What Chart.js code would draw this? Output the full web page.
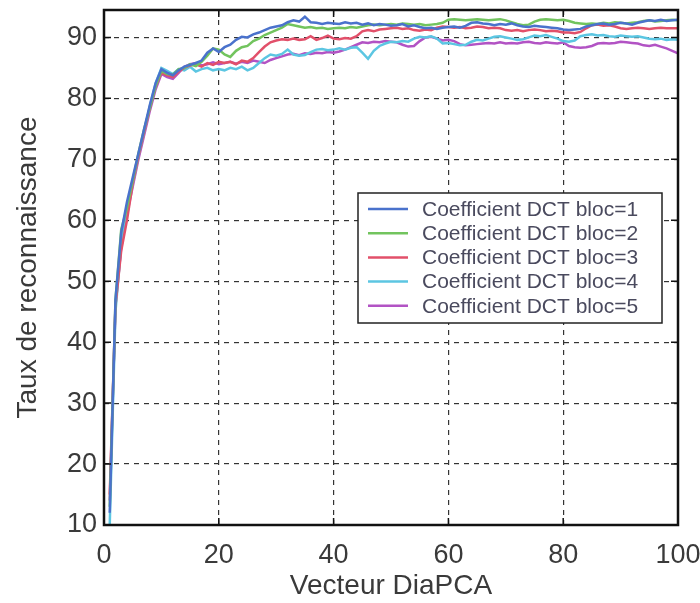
<!DOCTYPE html>
<html>
<head>
<meta charset="utf-8">
<script src="https://cdn.jsdelivr.net/npm/chart.js@4.4.1/dist/chart.umd.min.js"></script>
<style>
  html, body { margin: 0; padding: 0; background: #fff; }
  #wrap { width: 700px; height: 603px; }
</style>
</head>
<body>
<div id="wrap"><canvas id="dctChart"></canvas></div>
<script>
// x axis: vecteur DiaPCA (1..100)
const vecteurs = [
  1, 2, 3, 4, 5, 6, 7, 8, 9, 10, 11, 12, 13, 14, 15, 16, 17, 18, 19, 20,
  21, 22, 23, 24, 25, 26, 27, 28, 29, 30, 31, 32, 33, 34, 35, 36, 37, 38, 39, 40,
  41, 42, 43, 44, 45, 46, 47, 48, 49, 50, 51, 52, 53, 54, 55, 56, 57, 58, 59, 60,
  61, 62, 63, 64, 65, 66, 67, 68, 69, 70, 71, 72, 73, 74, 75, 76, 77, 78, 79, 80,
  81, 82, 83, 84, 85, 86, 87, 88, 89, 90, 91, 92, 93, 94, 95, 96, 97, 98, 99, 100
]

const legendLabels = [
  "Coefficient DCT bloc=1",
  "Coefficient DCT bloc=2",
  "Coefficient DCT bloc=3",
  "Coefficient DCT bloc=4",
  "Coefficient DCT bloc=5"
]

const xTicks = [0, 20, 40, 60, 80, 100]
const yTicks = [10, 20, 30, 40, 50, 60, 70, 80, 90]

const bloc1 = [
  12, 47, 58, 63, 67, 71, 75, 79, 82.5, 84.8,
  84.2, 83.8, 84.6, 85.2, 85.5, 85.8, 86.2, 87.5, 88.2, 87.6,
  88.4, 88.8, 89.6, 90.1, 90.0, 90.5, 90.8, 91.2, 91.6, 91.8,
  92.0, 92.5, 92.8, 92.6, 93.4, 92.5, 92.4, 92.2, 92.4, 92.3,
  92.2, 92.5, 92.3, 92.4, 92.1, 92.3, 92.0, 92.2, 92.1, 91.9,
  92.0, 92.2, 91.8, 92.0, 91.7, 91.5, 91.6, 91.4, 91.6, 91.7,
  91.8, 91.6, 91.9, 92.4, 92.5, 92.3, 92.2, 92.0, 92.2, 92.1,
  92.3, 92.0, 91.8, 91.7, 91.9, 91.8, 91.7, 91.6, 91.5, 91.3,
  91.2, 91.3, 91.4, 91.8, 92.0, 92.2, 92.3, 92.1, 92.2, 92.4,
  92.3, 92.1, 92.4, 92.6, 92.8, 92.7, 92.9, 92.7, 92.8, 92.9
]

const bloc2 = [
  13, 47, 58.5, 62, 66.5, 71, 75, 78.5, 82, 84.5,
  84.0, 83.9, 84.8, 85.0, 85.6, 85.3, 86.0, 87.0, 88.2, 88.0,
  87.2, 86.8, 87.8, 88.4, 88.6, 89.4, 89.8, 90.4, 90.8, 91.2,
  91.6, 92.2, 92.0, 91.8, 91.6, 91.7, 91.5, 91.6, 91.4, 91.5,
  91.6, 91.5, 91.7, 91.6, 91.8, 92.0, 92.1, 92.0, 92.1, 92.2,
  92.1, 92.3, 92.2, 92.1, 92.2, 92.0, 92.1, 92.2, 92.4, 92.9,
  93.0, 92.9, 92.8, 92.9, 93.0, 92.9, 92.8, 92.9, 93.0, 92.8,
  92.5, 92.2, 92.0, 92.1, 92.6, 92.9, 93.0, 92.9, 92.8, 92.9,
  92.7, 92.4, 92.3, 92.2, 92.3, 92.2, 92.4, 92.3, 92.5, 92.4,
  92.3, 92.4, 92.5, 92.7, 92.8, 92.6, 92.7, 92.8, 92.9, 92.8
]

const bloc3 = [
  15, 46, 55, 60, 66, 70.5, 74.5, 78.5, 82, 84.2,
  83.8, 83.5, 84.4, 85.0, 85.4, 85.6, 85.2, 85.8, 85.5, 86.0,
  85.8, 86.0, 85.6, 86.2, 86.0, 86.6, 87.6, 88.5, 89.2, 89.5,
  89.7, 89.6, 89.8, 89.6, 89.7, 90.2, 89.6, 89.9, 90.3, 89.8,
  89.7, 89.9, 89.8, 90.2, 91.0, 91.2, 91.0, 91.3, 91.4, 91.5,
  91.6, 91.4, 91.5, 91.2, 91.1, 91.3, 91.2, 91.6, 91.8, 91.7,
  91.6, 91.7, 91.5, 91.6, 91.8, 91.7, 91.5, 91.6, 91.5, 91.2,
  91.1, 91.2, 91.0, 91.2, 91.3, 91.2, 91.0, 91.1, 91.0, 90.8,
  90.8, 90.7, 90.9, 91.5, 92.0, 92.1, 91.9, 92.0, 91.8, 91.5,
  91.4, 91.5, 91.6, 91.5, 91.4, 91.5, 91.6, 91.5, 91.5, 91.5
]

const bloc4 = [
  10, 45, 56, 61.5, 66, 70.5, 74.5, 78.8, 82.5, 85.0,
  84.5, 84.0, 84.8, 84.6, 85.2, 84.4, 84.8, 85.0, 84.6, 84.8,
  84.6, 85.0, 84.8, 85.2, 84.6, 85.0, 85.8, 86.6, 87.2, 87.0,
  87.3, 88.0, 87.2, 87.0, 87.1, 87.6, 88.0, 88.1, 87.9, 88.0,
  88.2, 88.0, 88.3, 88.4, 87.5, 86.5, 87.8, 88.6, 89.0, 89.3,
  89.2, 89.4, 89.3, 89.8, 90.1, 90.0, 90.2, 89.8, 89.0, 89.1,
  88.9, 88.7, 88.8, 89.3, 89.6, 89.5, 89.8, 90.1, 90.2, 90.0,
  89.8, 89.6, 89.7, 90.0, 90.3, 90.2, 90.4, 90.1, 89.8, 89.4,
  89.3, 89.5, 90.2, 90.4, 90.5, 90.3, 90.4, 90.2, 90.1, 90.3,
  90.2, 90.1, 90.2, 90.0, 89.8, 89.7, 89.8, 89.6, 89.7, 89.6
]

const bloc5 = [
  14, 46, 55.5, 61, 65.5, 70, 74, 78, 81.5, 84.0,
  83.5, 83.2, 84.2, 85.2, 85.6, 85.8, 85.4, 85.6, 85.9, 85.6,
  85.8, 86.0, 85.7, 86.0, 85.8, 86.2, 86.0, 85.8, 86.3, 86.6,
  86.9, 87.2, 87.3, 87.1, 87.4, 87.3, 87.5, 87.4, 87.6, 87.5,
  87.7, 88.0, 88.4, 88.8, 89.2, 89.1, 89.3, 89.2, 89.4, 89.3,
  89.2, 88.8, 88.5, 88.6, 89.4, 90.0, 90.1, 89.8, 89.5, 89.6,
  89.4, 88.9, 88.7, 88.8, 88.9, 89.0, 89.1, 89.0, 89.2, 89.0,
  89.1, 89.0, 89.2, 89.3, 89.1, 89.0, 89.2, 89.1, 89.0, 89.2,
  88.6, 88.4, 88.3, 88.4, 88.6, 89.0, 89.1, 89.0, 89.1, 89.3,
  89.2, 89.1, 89.0, 88.7, 88.6, 88.8, 88.5, 88.2, 87.8, 87.4
]

const seriesColors = ["#4a72cc", "#72c45e", "#e2506a", "#5cc6e2", "#b253c4"]

function createDctChart() {
  const series = [bloc1, bloc2, bloc3, bloc4, bloc5]

  const data = {
    labels: vecteurs,
    datasets: series.map((values, i) => ({
      label: legendLabels[i],
      data: values,
      borderColor: seriesColors[i],
      backgroundColor: seriesColors[i],
      borderWidth: 2.5,
      pointRadius: 0,
      tension: 0,
      fill: false,
    })),
  }

  // box round the plot, inside ticks, and the legend box (matlab style)
  const frameAndLegend = {
    id: "frameAndLegend",
    afterDatasetsDraw(chart) {
      const { ctx, chartArea: area, scales } = chart
      ctx.save()
      ctx.strokeStyle = "#111"
      ctx.lineWidth = 1.5
      ctx.beginPath()
      xTicks.forEach((v) => {
        const px = scales.x.getPixelForValue(v)
        ctx.moveTo(px, area.bottom)
        ctx.lineTo(px, area.bottom - 7)
        ctx.moveTo(px, area.top)
        ctx.lineTo(px, area.top + 7)
      })
      yTicks.forEach((v) => {
        const py = scales.y.getPixelForValue(v)
        ctx.moveTo(area.left, py)
        ctx.lineTo(area.left + 7, py)
        ctx.moveTo(area.right, py)
        ctx.lineTo(area.right - 7, py)
      })
      ctx.stroke()
      ctx.lineWidth = 2.5
      ctx.strokeRect(area.left, area.top, area.right - area.left, area.bottom - area.top)

      // legend
      const box = { x: 358, y: 193, w: 304, h: 130 }
      ctx.fillStyle = "#fff"
      ctx.fillRect(box.x, box.y, box.w, box.h)
      ctx.lineWidth = 1.5
      ctx.strokeStyle = "#222"
      ctx.strokeRect(box.x, box.y, box.w, box.h)
      ctx.font = "21px 'Liberation Sans', Arial, sans-serif"
      ctx.textBaseline = "middle"
      ctx.textAlign = "left"
      chart.data.datasets.forEach((ds, i) => {
        const y = box.y + 16 + i * 24.2
        ctx.strokeStyle = ds.borderColor
        ctx.lineWidth = 2.5
        ctx.beginPath()
        ctx.moveTo(box.x + 10, y)
        ctx.lineTo(box.x + 50, y)
        ctx.stroke()
        ctx.fillStyle = "#4a4a5e"
        ctx.fillText(ds.label, box.x + 64, y + 1)
      })
      ctx.restore()
    },
  }

  const tickFont = { family: "'Liberation Sans', Arial, sans-serif", size: 27 }
  const titleFont = { family: "'Liberation Sans', Arial, sans-serif", size: 28 }

  const config = {
    type: "line",
    data: data,
    options: {
      responsive: true,
      maintainAspectRatio: false,
      animation: false,
      layout: { padding: { top: 10, right: 22, left: 0, bottom: 0 } },
      plugins: {
        legend: { display: false },
        tooltip: { enabled: false },
      },
      scales: {
        x: {
          type: "linear",
          min: 0,
          max: 100,
          afterBuildTicks: (scale) => {
            scale.ticks = xTicks.map((v) => ({ value: v }))
          },
          afterFit: (scale) => {
            scale.height = 78
            scale.paddingLeft = 0
            scale.paddingRight = 0
          },
          ticks: { font: tickFont, color: "#3a3a3a", padding: 14, maxRotation: 0 },
          grid: { color: "#333", lineWidth: 1.2, drawTicks: false },
          border: { display: false, dash: [5, 5] },
          title: {
            display: true,
            text: "Vecteur DiaPCA",
            font: titleFont,
            color: "#3a3a3a",
            padding: { top: 4, bottom: 0 },
          },
        },
        y: {
          min: 10,
          max: 94.5,
          afterBuildTicks: (scale) => {
            scale.ticks = yTicks.map((v) => ({ value: v }))
          },
          afterFit: (scale) => {
            scale.width = 104
            scale.paddingTop = 0
            scale.paddingBottom = 0
          },
          ticks: { font: tickFont, color: "#3a3a3a", padding: 7 },
          grid: { color: "#333", lineWidth: 1.2, drawTicks: false },
          border: { display: false, dash: [5, 5] },
          title: {
            display: true,
            text: "Taux de reconnaissance",
            font: titleFont,
            color: "#3a3a3a",
            padding: { top: 11, bottom: 0 },
          },
        },
      },
    },
    plugins: [frameAndLegend],
  }

  const ctx = document.getElementById("dctChart")
  new Chart(ctx, config)
}

document.addEventListener("DOMContentLoaded", () => {
  createDctChart()
})
</script>
</body>
</html>
